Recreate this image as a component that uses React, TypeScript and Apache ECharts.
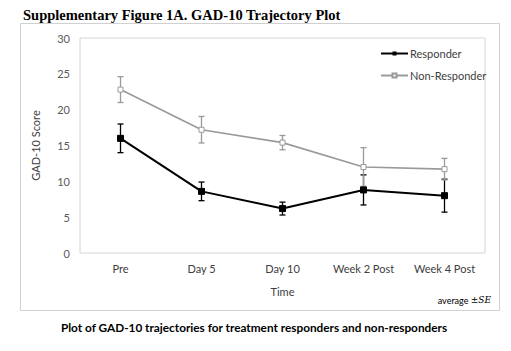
import React, { useEffect, useRef } from "react";
import * as echarts from "echarts";

const categories = ["Pre", "Day 5", "Day 10", "Week 2 Post", "Week 4 Post"];
const responder = [16.0, 8.6, 6.2, 8.8, 8.0];
const responderSE = [2.0, 1.3, 0.9, 2.1, 2.3];
const nonResponder = [22.8, 17.2, 15.4, 12.0, 11.7];
const nonResponderSE = [1.8, 1.85, 1.0, 2.7, 1.5];
const yTicks = [0, 5, 10, 15, 20, 25, 30];

const SANS = "Lato, 'Open Sans', sans-serif";
const GRAY = "#9a9a9a";

function errorSeries(name: string, vals: number[], se: number[], color: string, width: number) {
  const data = vals.map((v, i) => [i, v - se[i], v + se[i]]);
  return {
    type: "custom",
    name: name + "-err",
    data,
    z: 1,
    silent: true,
    renderItem: (params: any, api: any) => {
      const x = api.value(0);
      const lo = api.coord([x, api.value(1)]);
      const hi = api.coord([x, api.value(2)]);
      const cap = 3;
      const style = { stroke: color, lineWidth: width };
      return {
        type: "group",
        children: [
          { type: "line", shape: { x1: lo[0], y1: lo[1], x2: hi[0], y2: hi[1] }, style },
          { type: "line", shape: { x1: lo[0] - cap, y1: lo[1], x2: lo[0] + cap, y2: lo[1] }, style },
          { type: "line", shape: { x1: hi[0] - cap, y1: hi[1], x2: hi[0] + cap, y2: hi[1] }, style },
        ],
      };
    },
  };
}

export default function App() {
  const ref = useRef<HTMLDivElement>(null);
  useEffect(() => {
    if (!ref.current) return;
    const chart = echarts.init(ref.current, null, { renderer: "svg" });
    chart.setOption({
      animation: false,
      backgroundColor: "#fff",
      title: {
        text: "Supplementary Figure 1A. GAD-10 Trajectory Plot",
        left: 18,
        top: 2,
        textStyle: { fontFamily: "'Liberation Serif', serif", fontWeight: "bold", fontSize: 14.5, color: "#000" },
      },
      legend: {
        orient: "vertical",
        left: 375,
        top: 43,
        itemWidth: 27,
        itemHeight: 5,
        itemGap: 11,
        data: ["Responder", "Non-Responder"],
        textStyle: { fontFamily: SANS, fontSize: 11, color: "#404040", padding: [0, 0, 0, -3] },
      },
      grid: {
        left: 80,
        top: 38,
        width: 405,
        height: 215,
        show: true,
        borderColor: "#d6d6d6",
        borderWidth: 1,
        backgroundColor: "transparent",
      },
      xAxis: {
        type: "category",
        data: categories,
        boundaryGap: true,
        axisLine: { show: false },
        axisTick: { show: false },
        axisLabel: { fontFamily: SANS, fontSize: 11, color: "#404040", margin: 10 },
        name: "Time",
        nameLocation: "middle",
        nameGap: 33,
        nameTextStyle: { fontFamily: SANS, fontSize: 11, color: "#404040" },
      },
      yAxis: {
        type: "value",
        min: 0,
        max: 30,
        interval: 5,
        axisLine: { show: false },
        axisTick: { show: false },
        splitLine: { show: false },
        axisLabel: {
          fontFamily: SANS,
          fontSize: 11,
          color: "#595959",
          margin: 10,
          formatter: (v: number) => (yTicks.includes(v) ? String(v) : ""),
        },
        name: "GAD-10 Score",
        nameLocation: "middle",
        nameGap: 39,
        nameTextStyle: { fontFamily: SANS, fontSize: 11, color: "#404040" },
      },
      graphic: [
        {
          type: "rect",
          shape: { x: 20.5, y: 23.5, width: 479, height: 287 },
          style: { fill: "none", stroke: "#d0d0d0", lineWidth: 1 },
          z: -1,
        },
        {
          type: "text",
          x: 491,
          y: 300,
          style: {
            text: "{a|average }{b|±SE}",
            align: "right",
            verticalAlign: "middle",
            rich: {
              a: { fontFamily: SANS, fontSize: 9, fill: "#000" },
              b: { fontFamily: "'DejaVu Serif', serif", fontSize: 9, fontStyle: "italic", fill: "#000" },
            },
          },
        },
        {
          type: "text",
          x: 254,
          y: 327,
          style: {
            text: "Plot of GAD-10 trajectories for treatment responders and non-responders",
            align: "center",
            verticalAlign: "middle",
            fontFamily: SANS,
            fontWeight: "bold",
            fontSize: 11.8,
            fill: "#000",
          },
        },
      ],
      series: [
        errorSeries("Responder", responder, responderSE, "#000", 1.3),
        errorSeries("Non-Responder", nonResponder, nonResponderSE, GRAY, 1.3),
        {
          type: "line",
          name: "Responder",
          data: responder,
          symbol: "rect",
          symbolSize: 6,
          z: 3,
          lineStyle: { color: "#000", width: 2 },
          itemStyle: { color: "#000", borderColor: "#000" },
        },
        {
          type: "line",
          name: "Non-Responder",
          data: nonResponder,
          symbol: "rect",
          symbolSize: 5,
          z: 2,
          lineStyle: { color: GRAY, width: 1.7 },
          itemStyle: { color: "#fff", borderColor: GRAY, borderWidth: 1 },
        },
      ],
    });
    return () => chart.dispose();
  }, []);
  return <div ref={ref} style={{ width: 511, height: 351, position: "absolute", left: 0, top: 0 }} />;
}
